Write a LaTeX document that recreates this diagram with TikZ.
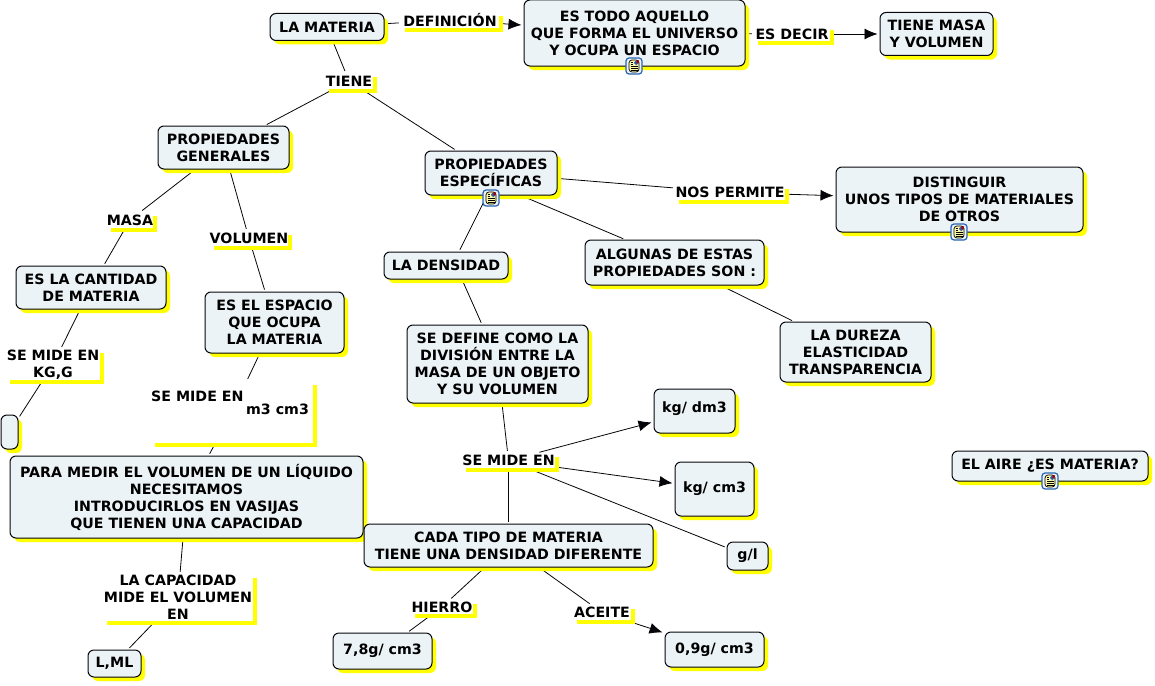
\documentclass[tikz,border=0pt]{standalone}
\usepackage{fontspec}
\setmainfont{DejaVu Sans}
\usetikzlibrary{arrows.meta, shadows, backgrounds}
\definecolor{mypaper}{RGB}{236,243,246}
\definecolor{myyellow}{RGB}{255,255,0}
\definecolor{mydark}{RGB}{5,5,10}
\definecolor{myicon}{RGB}{40,100,180}
\tikzset{
  concept/.style={rectangle, draw=mydark, fill=mypaper, rounded corners=6pt,
    line width=1pt, align=center, inner sep=0pt, font=\fontsize{14.2}{17}\bfseries,
    drop shadow={shadow xshift=4pt, shadow yshift=-4pt, fill=myyellow, opacity=1}},
  linklabel/.style={rectangle, fill=white, align=center, inner sep=0pt, font=\fontsize{14.2}{17}\bfseries,
    drop shadow={shadow xshift=4pt, shadow yshift=-4pt, fill=myyellow, opacity=1}},
  noteicon/.style={rectangle, draw=myicon, fill=mypaper, rounded corners=3pt, line width=1.2pt,
    minimum size=16pt, inner sep=0pt,
    path picture={
      \draw[black, fill=yellow!35!white, line width=0.7pt] ([shift={(-5pt,-6pt)}]path picture bounding box.center) rectangle ([shift={(5pt,6pt)}]path picture bounding box.center);
      \fill[myicon] ([shift={(0pt,1pt)}]path picture bounding box.center) rectangle ([shift={(4.5pt,5.5pt)}]path picture bounding box.center);
      \fill[red!70!black] ([shift={(2.5pt,3pt)}]path picture bounding box.center) rectangle ([shift={(4.5pt,5.5pt)}]path picture bounding box.center);
      \foreach \k in {-4.5,-2.5,-0.5} {\draw[black, line width=0.7pt] ([shift={(-3.5pt,\k pt)}]path picture bounding box.center) -- ([shift={(3.5pt,\k pt)}]path picture bounding box.center);}
      \draw[black, line width=0.7pt] ([shift={(-3.5pt,1.5pt)}]path picture bounding box.center) -- ([shift={(-1pt,1.5pt)}]path picture bounding box.center);
      \draw[black, line width=0.7pt] ([shift={(-3.5pt,3.5pt)}]path picture bounding box.center) -- ([shift={(-1pt,3.5pt)}]path picture bounding box.center);
    }},
  line/.style={line width=0.8pt, color=mydark, shorten <=2pt, shorten >=2pt},
  arrow/.style={-{Latex[length=13pt,width=11pt]}, line width=0.8pt, color=mydark, shorten <=2pt, shorten >=2pt}
}
\begin{document}
\begin{tikzpicture}[x=1pt, y=-1pt]
  \useasboundingbox (0,0) rectangle (1155,685);

  % ── Top row ──
  \node[concept, minimum width=114pt, minimum height=27pt] (materia) at (327,27) {LA MATERIA};
  \node[linklabel, minimum width=98pt, minimum height=16pt] (definicion) at (450,20) {DEFINICIÓN};
  \node[concept, minimum width=221pt, minimum height=66pt] (todo) at (634.5,33) {ES TODO AQUELLO\\QUE FORMA EL UNIVERSO\\Y OCUPA UN ESPACIO};
  \node[linklabel, minimum width=76pt, minimum height=15pt] (esdecir) at (792,34) {ES DECIR};
  \node[concept, minimum width=113pt, minimum height=43pt] (masavol) at (936.5,34) {TIENE MASA\\Y VOLUMEN};
  \node[linklabel, minimum width=48pt, minimum height=16pt] (tiene) at (349,81) {TIENE};

  % ── Properties ──
  \node[concept, minimum width=131pt, minimum height=43pt] (generales) at (223.5,147.5) {PROPIEDADES\\GENERALES};
  \node[concept, minimum width=132pt, minimum height=44pt] (especificas) at (491,173) {PROPIEDADES\\ESPECÍFICAS};
  \node[linklabel, minimum width=110pt, minimum height=15pt] (permite) at (730,192.5) {NOS PERMITE};
  \node[concept, minimum width=247pt, minimum height=65pt] (distinguir) at (959.5,199.5) {DISTINGUIR\\UNOS TIPOS DE MATERIALES\\DE OTROS};
  \node[linklabel, minimum width=46pt, minimum height=16pt] (masa) at (130,220) {MASA};
  \node[linklabel, minimum width=78pt, minimum height=15pt] (volumen) at (249,238.5) {VOLUMEN};
  \node[concept, minimum width=124pt, minimum height=27pt] (densidad) at (446,265.5) {LA DENSIDAD};
  \node[concept, minimum width=179pt, minimum height=45pt] (algunas) at (674.5,262.5) {ALGUNAS DE ESTAS\\PROPIEDADES SON :};

  % ── Left column ──
  \node[concept, minimum width=150pt, minimum height=43pt] (cantidad) at (91,287.5) {ES LA CANTIDAD\\DE MATERIA};
  \node[concept, minimum width=139pt, minimum height=61pt] (espacio) at (274.5,322.5) {ES EL ESPACIO\\QUE OCUPA\\LA MATERIA};
  \node[linklabel, minimum width=94pt, minimum height=31pt] (midekg) at (53,364.5) {SE MIDE EN\\KG,G};
  \node[concept, minimum width=17pt, minimum height=34pt] (vacio) at (9.5,432) {};
  \node[linklabel, minimum width=162pt, minimum height=62pt] (midem) at (232,412) {};
  \node[font=\fontsize{14.2}{13}\bfseries, align=left, anchor=north west, inner sep=0pt] (midemtxt) at (151,391) {SE MIDE EN\\\hspace*{95pt}m3 cm3};
  \node[concept, minimum width=353pt, minimum height=82pt] (liquido) at (186.5,497) {PARA MEDIR EL VOLUMEN DE UN LÍQUIDO\\NECESITAMOS\\INTRODUCIRLOS EN VASIJAS\\QUE TIENEN UNA CAPACIDAD};
  \node[linklabel, minimum width=150pt, minimum height=47pt] (capacidad) at (178,597.5) {LA CAPACIDAD\\MIDE EL VOLUMEN\\EN};
  \node[concept, minimum width=53pt, minimum height=27pt] (litro) at (114.5,663.5) {L,ML};

  % ── Density ──
  \node[concept, minimum width=181pt, minimum height=78pt] (define) at (497.5,364) {SE DEFINE COMO LA\\DIVISIÓN ENTRE LA\\MASA DE UN OBJETO\\Y SU VOLUMEN};
  \node[concept, minimum width=151pt, minimum height=60pt] (dureza) at (855.5,352) {LA DUREZA\\ELASTICIDAD\\TRANSPARENCIA};
  \node[linklabel, minimum width=93pt, minimum height=15pt] (mideen) at (508.5,460.5) {SE MIDE EN};
  \node[concept, minimum width=81pt, minimum height=44pt] (dm) at (694.5,411) {\raisebox{7pt}{kg/ dm3}};
  \node[concept, minimum width=79pt, minimum height=54pt] (cm) at (714.5,489) {kg/ cm3};
  \node[concept, minimum width=41pt, minimum height=28pt] (gl) at (747.5,556) {g/l};
  \node[concept, minimum width=196pt, minimum height=30pt] (aire) at (1050,466) {EL AIRE ¿ES MATERIA?};
  \node[concept, minimum width=289pt, minimum height=43pt] (tipo) at (508.5,545.5) {CADA TIPO DE MATERIA\\TIENE UNA DENSIDAD DIFERENTE};
  \node[linklabel, minimum width=62pt, minimum height=14pt] (hierro) at (442,607) {HIERRO};
  \node[linklabel, minimum width=58pt, minimum height=15pt] (aceite) at (602,612.5) {ACEITE};
  \node[concept, minimum width=99pt, minimum height=36pt] (hierrog) at (382.5,651) {\raisebox{2pt}{7,8g/ cm3}};
  \node[concept, minimum width=99pt, minimum height=35pt] (aceiteg) at (714.5,649.5) {\raisebox{2pt}{0,9g/ cm3}};

  % ── Note icons ──
  \node[noteicon] (icontodo) at (634,66) {};
  \node[noteicon] (iconesp) at (491,198) {};
  \node[noteicon] (icondist) at (959,232) {};
  \node[noteicon] (iconaire) at (1050,481) {};

  % ── Connectors ──
  \begin{scope}[on background layer]
    \foreach \a/\b in {materia/definicion, materia/tiene, tiene/generales, tiene/especificas,
      todo/esdecir, generales/masa, generales/volumen, masa/cantidad, volumen/espacio,
      cantidad/midekg, midekg/vacio, espacio/midem, midem/liquido, liquido/capacidad, capacidad/litro,
      especificas/permite, algunas/dureza,
      define/mideen, mideen/gl, mideen/tipo, tipo/hierro, tipo/aceite, hierro/hierrog} {
      \draw[line] (\a) -- (\b);
    }
    \draw[line] ([xshift=-4pt]especificas.south) -- ([xshift=13pt]densidad.north);
    \draw[line] ([xshift=30pt]especificas.south) -- ([xshift=-49.5pt]algunas.north);
    \draw[line] ([xshift=16pt]densidad.south) -- ([xshift=-15.5pt]define.north);
    \foreach \a/\b in {definicion/todo, esdecir/masavol, permite/distinguir, mideen/dm, mideen/cm, aceite/aceiteg} {
      \draw[arrow] (\a) -- (\b);
    }
  \end{scope}
\end{tikzpicture}
\end{document}
